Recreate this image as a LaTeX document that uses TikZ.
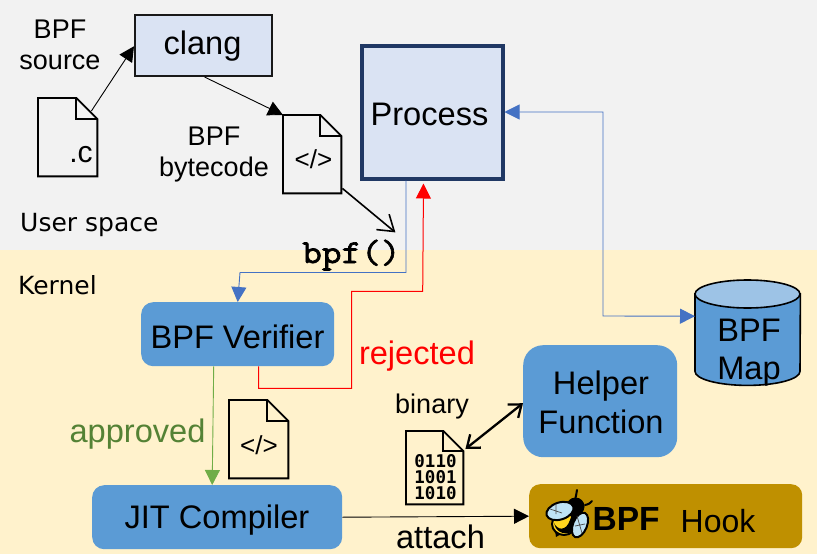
\documentclass[tikz,border=0pt]{standalone}
\usepackage{fontspec}
\setmainfont{Liberation Sans}
\newfontfamily\djv{DejaVu Sans}
\newfontfamily\djm{DejaVu Sans Mono}
\newfontfamily\bpffont[FakeBold=2,FakeStretch=1.14]{Latin Modern Mono}
\usetikzlibrary{arrows.meta,shapes.geometric,calc}
\newcommand{\fs}[1]{\fontsize{#1}{#1}\selectfont}
\definecolor{usergray}{HTML}{F2F2F2}
\definecolor{kernelbg}{HTML}{FFF2CC}
\definecolor{lightbox}{HTML}{DAE3F3}
\definecolor{navyline}{HTML}{203864}
\definecolor{bluebox}{HTML}{5B9BD5}
\definecolor{bluetop}{HTML}{9DC3E6}
\definecolor{hookgold}{HTML}{BF9000}
\definecolor{lineblue}{HTML}{4472C4}
\definecolor{linegreen}{HTML}{70AD47}
\definecolor{textgreen}{HTML}{548235}
\definecolor{wingblue}{HTML}{BFE3F5}
\definecolor{beeyellow}{HTML}{FFD51E}
\tikzset{
  x=1pt,y=-1pt,
  lbl/.style={inner sep=0pt,align=center,font=\fs{32.6}},
  small/.style={inner sep=0pt,align=center,font=\fs{27}},
  lightrect/.style={draw=black!90,line width=2pt,fill=lightbox,inner sep=0pt},
  roundblue/.style={fill=bluebox,rounded corners=#1,inner sep=0pt,align=center},
  docbox/.style={inner sep=0pt},
  docline/.style={draw=black,line width=1.9pt,line join=miter},
  thinarrow/.style={draw=black,line width=0.9pt,-{Triangle[length=15pt,width=15pt]}},
  bluearrow/.style={draw=lineblue,line width=0.9pt},
  redarrow/.style={draw=red,line width=1pt},
}
% \docicon{name}{left}{top}{right}{bottom}{fold dx}{fold dy}
\newcommand{\docicon}[7]{%
  \node[docbox,minimum width=#4pt-#2pt,minimum height=#5pt-#3pt,anchor=north west] (#1) at (#2,#3) {};
  \draw[docline] (#1.north west) -- ([xshift=-#6pt]#1.north east) -- ([yshift=-#7pt]#1.north east) -- (#1.south east) -- (#1.south west) -- cycle;
  \draw[docline] ([xshift=-#6pt]#1.north east) -- ([xshift=-#6pt,yshift=-#7pt]#1.north east) -- ([yshift=-#7pt]#1.north east);
}
\begin{document}
\begin{tikzpicture}
\useasboundingbox (0,0) rectangle (817,554);
\fill[usergray] (0,0) rectangle (817,250);
\fill[kernelbg] (0,250) rectangle (817,554);

% boxes
\node[lightrect,minimum width=136.5pt,minimum height=61.5pt,anchor=north west] (clang) at (134,13.5) {};
\node[lbl] at (202.5,46.5) {clang};
\node[draw=navyline,line width=4pt,fill=lightbox,minimum width=141pt,minimum height=133pt,inner sep=0pt,anchor=north west] (process) at (359.5,43.5) {};
\node[lbl] at (429.5,114) {Process};
\node[roundblue=12pt,minimum width=193pt,minimum height=64pt,anchor=north west] (verifier) at (141,302) {};
\node[lbl] at (237.5,336.5) {BPF Verifier};
\node[roundblue=12pt,minimum width=250pt,minimum height=64pt,anchor=north west] (jit) at (92,485) {};
\node[lbl] at (217,520.5) {JIT Compiler};
\node[roundblue=20pt,minimum width=154pt,minimum height=112pt,anchor=north west] (helper) at (523,345) {};
\node[lbl] at (601,386) {Helper};
\node[lbl] at (601,422) {Function};
\node[fill=hookgold,rounded corners=11pt,minimum width=273pt,minimum height=64pt,inner sep=0pt,anchor=north west] (hook) at (529,484) {};
\node[inner sep=0pt,anchor=base west,font=\bfseries\fs{33.5}] (bpflogo) at (592.5,530) {BPF};
\node[inner sep=0pt,anchor=base west,font=\fs{32}] (hooktext) at (680.5,532) {Hook};

% cylinder
\node[inner sep=0pt,minimum width=105pt,minimum height=105pt,anchor=north west] (map) at (695,280) {};
\draw[fill=bluebox,line width=1.6pt] ([yshift=-14pt]map.north west) -- ([yshift=14pt]map.south west) arc[start angle=180,end angle=360,x radius=52.5pt,y radius=14pt] -- ([yshift=-14pt]map.north east) -- cycle;
\draw[fill=bluetop,line width=1.6pt] (747.5,294) ellipse[x radius=52.5,y radius=14];
\node[lbl] at (749,330) {BPF};
\node[lbl] at (749,371.5) {Map};

% docs
\docicon{docc}{38}{98}{97}{176}{21}{21}
\node[inner sep=0pt,font=\fs{30}] at (81,155) {.c};
\docicon{docb}{283}{115}{341}{193}{21}{21}
\node[inner sep=0pt,font=\fs{26}] at (313.5,159) {</>};
\docicon{docv}{229}{400}{288}{478}{21}{21}
\node[inner sep=0pt,font=\fs{26}] at (259,445) {</>};
\docicon{docbin}{406}{431}{463}{504}{20}{20}
\node[inner sep=0pt,align=center,font=\djm\bfseries\fontsize{17.5}{16}\selectfont] at (435.5,477) {0110\\1001\\1010};

% labels
\node[small] at (60,29) {BPF};
\node[small] at (60,62) {source};
\node[small] at (214,136) {BPF};
\node[small] at (214,170) {bytecode};
\node[small] at (432,407) {binary};
\node[inner sep=0pt,anchor=base west,font=\djv\fs{25}] at (20,231) {User space};
\node[inner sep=0pt,anchor=base west,font=\djv\fs{25}] at (18,294) {Kernel};
\node[inner sep=0pt,anchor=base west,font=\bpffont\fs{33.5}] at (302,263) {bpf()};
\node[lbl,text=red] at (417,356) {rejected};
\node[lbl,text=textgreen] at (137.5,434) {approved};
\node[lbl] at (440.5,537) {attach};

% connectors
\draw[thinarrow] ([xshift=-6pt,yshift=-13pt]docc.north east) -- ([yshift=-1pt]clang.west);
\draw[thinarrow] ([xshift=-68pt]clang.south east) -- (docb.north west);
\draw[draw=black,line width=1.6pt,-{Straight Barb[length=15pt,width=20pt,line width=1.6pt]}] ([xshift=1pt,yshift=5pt]docb.south east) -- ([xshift=54pt,yshift=-39pt]docb.south east);
\draw[bluearrow,-{Triangle[length=15pt,width=15pt,color=lineblue]}] ([xshift=-26pt]process.south) |- ++(-166,92) -- (verifier.north);
\draw[redarrow,-{Triangle[length=15pt,width=15pt]}] ([xshift=21pt]verifier.south) |- ++(93,22) |- ++(71,-97) -- ([xshift=-8.5pt,yshift=-3pt]process.south);
\draw[draw=linegreen,line width=0.9pt,-{Triangle[length=15pt,width=15pt]}] ([xshift=-24pt]verifier.south) -- ([xshift=-5pt]jit.north);
\draw[bluearrow,{Triangle[length=15pt,width=15pt]}-{Triangle[length=15pt,width=15pt]}] (process.east) -| (603,316) -- ([yshift=16.5pt]map.west);
\draw[draw=black,line width=2.3pt,{Straight Barb[length=11pt,width=17pt,line width=2.3pt]}-{Straight Barb[length=11pt,width=17pt,line width=2.3pt]}] ([xshift=2pt,yshift=1pt]docbin.north east |- 0,450) -- ([yshift=-2pt]helper.west);
\draw[thinarrow] (jit.east) -- (hook.west);

% bee logo
\begin{scope}[line join=round]
\draw[line width=2pt,line cap=round] (575,500) .. controls (576,496) .. (577,490);
\draw[line width=2pt,line cap=round] (585,505) .. controls (589,504) .. (592,501);
\fill (555,531) -- (556,537) -- (561,534) -- cycle;
\draw[line width=2pt,fill=beeyellow] (564,524) ellipse[x radius=12,y radius=11];
\fill (573,512) -- (582,520) -- (572,532) .. controls (562,536) and (555,530) .. (554,523) .. controls (557,530) and (566,532) .. (570,520) -- cycle;
\fill (575.5,506.5) circle[radius=9];
\draw[line width=2pt,fill=wingblue,rotate around={18:(560,511)}] (560,511) ellipse[x radius=14,y radius=8.5];
\draw[line width=0.7pt,draw=black!70] (550,509) -- (562,513) (556,504) -- (556,514);
\draw[line width=2pt,fill=wingblue,rotate around={68:(580,525)}] (580,525) ellipse[x radius=13,y radius=7];
\draw[line width=0.7pt,draw=black!70] (577,516) -- (582,533) (575,526) -- (585,524);
\end{scope}
\end{tikzpicture}
\end{document}
